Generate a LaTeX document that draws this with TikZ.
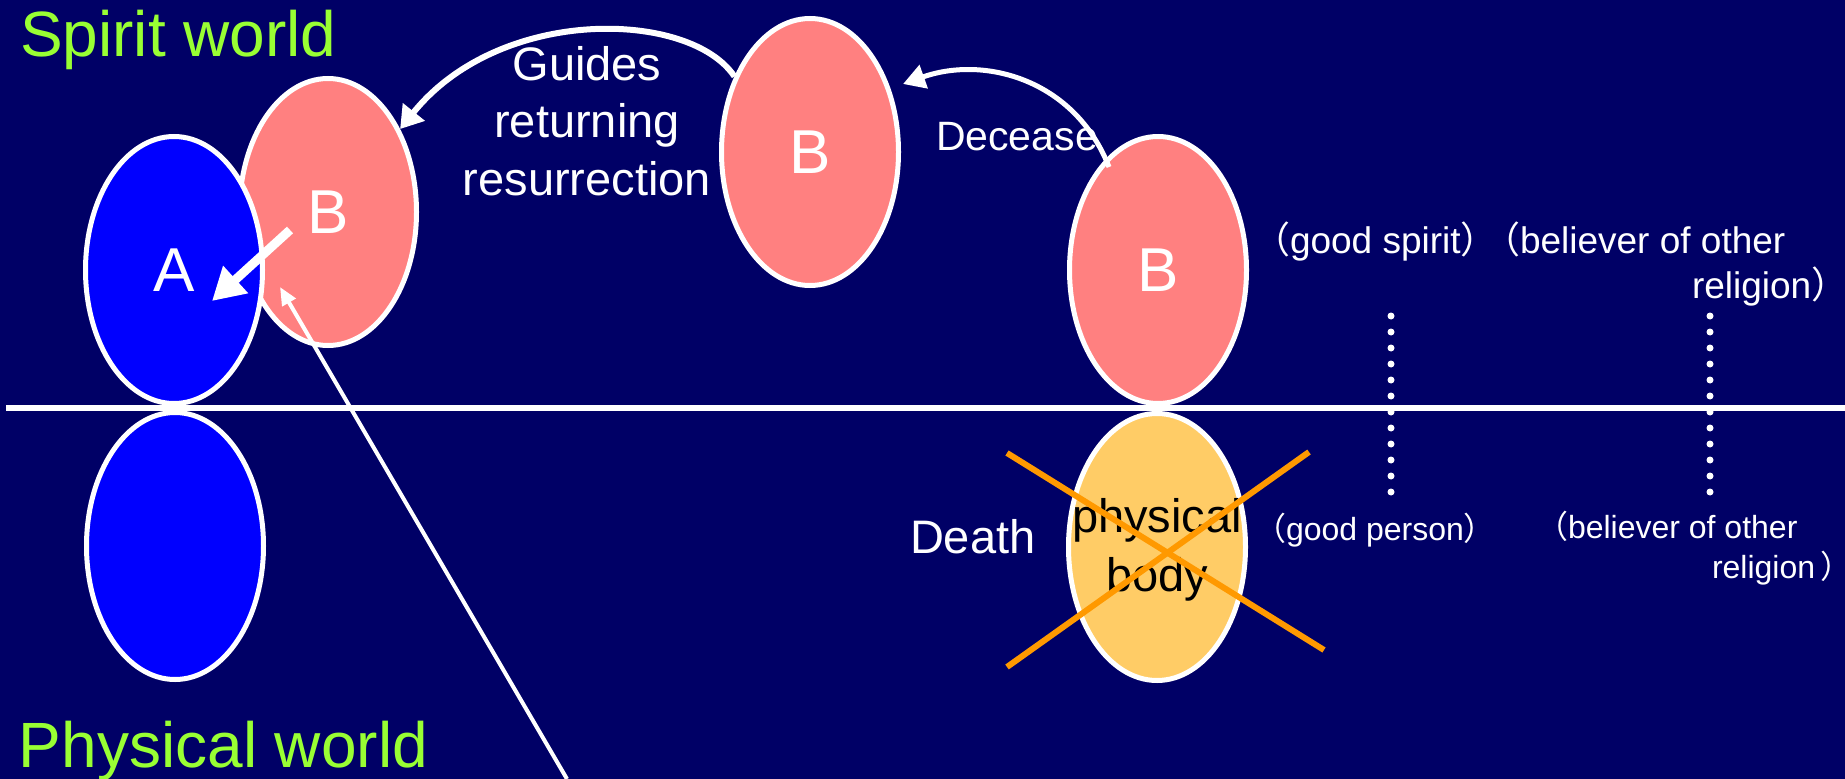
\documentclass[tikz,border=0pt]{standalone}
\usepackage{fontspec}
\setmainfont{Liberation Sans}
\newfontfamily\cjk{Noto Sans CJK JP}
\usetikzlibrary{shapes.geometric,arrows.meta,calc}
\definecolor{bg}{RGB}{0,0,102}
\definecolor{blueA}{RGB}{0,0,255}
\definecolor{pinkB}{RGB}{255,128,128}
\definecolor{yellowP}{RGB}{255,204,102}
\definecolor{greenT}{RGB}{153,255,51}
\definecolor{orangeX}{RGB}{255,153,0}
\newcommand{\fs}[1]{\fontsize{#1}{1.25\dimexpr #1pt\relax}\selectfont}
\newcommand{\lp}{{\cjk （}}
\newcommand{\rp}{{\cjk\makebox[0.35em][l]{）}}}
\tikzset{
  soul/.style={ellipse, draw=white, line width=5pt, minimum width=177pt, minimum height=267pt, inner sep=0pt, text=white, font=\fs{62}},
  txt/.style={inner sep=0pt, outer sep=0pt, text=white},
  world/.style={txt, text=greenT, font=\fs{64}, anchor=base west},
  note/.style={txt, anchor=base west},
  bigarrow/.style={white, line width=6pt, -{Triangle[length=22pt,width=27pt]}},
  midarrow/.style={white, line width=5pt, -{Triangle[length=22pt,width=24pt]}},
  thickarrow/.style={white, line width=9pt, -{Triangle[length=32pt,width=35pt]}},
  thinarrow/.style={white, line width=4pt, -{Triangle[length=18pt,width=15pt]}},
  dots/.style={white, line width=7pt, line cap=round, dash pattern=on 0pt off 16pt},
  cross/.style={orangeX, line width=6pt}
}
\begin{document}
\begin{tikzpicture}[x=1pt,y=-1pt]
\fill[bg] (0,0) rectangle (1845,779);
\useasboundingbox (0,0) rectangle (1845,779);

% ellipses
\node[soul, fill=pinkB] (Bleft) at (328,212) {B};
\node[soul, fill=blueA] (A) at (174,270) {A};
\node[soul, fill=blueA] (Alow) at (175,546) {};
\node[soul, fill=pinkB] (Bmid) at (810,152) {B};
\node[soul, fill=pinkB] (Bright) at (1158,270) {B};
\node[soul, fill=yellowP, label={[txt, text=black, font=\fontsize{47}{59}\selectfont, align=center, yshift=-3pt]center:physical\\body}] (body) at (1157,547) {};

% horizontal divider
\coordinate (hl) at (6,408);
\coordinate (hr) at (1845,408);
\draw[white, line width=6pt] (hl) -- (hr);

% cross over physical body
\draw[cross] (1007,453) -- (1324,650);
\draw[cross] (1309,452) -- (1007,667);

% world labels
\node[world] (spirit) at (20,56) {Spirit world};
\node[world] (physical) at (19,767) {Physical world};

% arrows
\draw[bigarrow] (Bmid.135) .. controls (690,10) and (500,5) .. (Bleft.49);
\node[txt, align=center, font=\fontsize{47}{57.5}\selectfont, anchor=base] (guides) at (587,195) {Guides\\returning\\resurrection};

\node[note, font=\fs{41}] (decease) at (936,150) {Decease};
\draw[midarrow] ($(Bright.center)+(-49,-103)$) .. controls (1075,80) and (985,55) .. ($(Bmid.center)+(93,-68)$);

\draw[thickarrow] ($(Bleft.center)+(-38,18)$) -- ($(A.center)+(38,31)$);
\coordinate (lowend) at (567,779);
\draw[thinarrow] (lowend) -- ($(Bleft.center)+(-48,75)$);

\node[note, font=\fs{47}] (death) at (910,553) {Death};

% right labels
\node[note, font=\fs{37}] (gs) at (1253,253) {\lp good spirit\rp};
\node[note, font=\fs{37}] (bo1) at (1483,253) {\lp believer of other};
\node[note, font=\fs{37}] (bo2) at (1692,298) {religion\rp};
\node[note, font=\fs{32}] (gp) at (1254,540) {\lp good person\rp};
\node[note, font=\fs{32}] (bo3) at (1536,538) {\lp believer of other};
\node[note, font=\fs{32}] (bo4) at (1712,578) {religion\kern5pt\rp};

\coordinate (d1t) at (1391,316);
\coordinate (d1b) at (1391,493);
\coordinate (d2t) at (1710,316);
\coordinate (d2b) at (1710,493);
\draw[dots] (d1t) -- (d1b);
\draw[dots] (d2t) -- (d2b);
\end{tikzpicture}
\end{document}
